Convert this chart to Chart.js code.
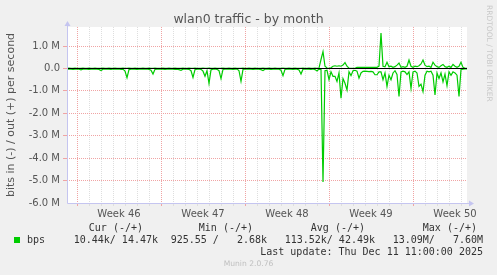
<!DOCTYPE html>
<html>
<head>
<meta charset="utf-8">
<script src="https://cdn.jsdelivr.net/npm/chart.js@4.4.1/dist/chart.umd.min.js"></script>
<style>
    html, body { margin: 0; padding: 0; background: #f0f0f0; }
    #wrap { position: relative; width: 497px; height: 275px; overflow: hidden; font-family: "DejaVu Sans", sans-serif; }
    #wrap canvas { position: absolute; left: 0; top: 0; }
    .txt { position: absolute; white-space: pre; line-height: 1; }
    .mono { font-family: "DejaVu Sans Mono", monospace; font-size: 10px; color: #333; }
    #title { left: 0; width: 497px; top: 13px; text-align: center; font-size: 12.5px; color: #555; }
    #rrd { left: 485px; top: 5px; writing-mode: vertical-rl; font-size: 7.5px; color: #c8c8c8; }
    #munin { left: 0; width: 497px; top: 260px; text-align: center; font-size: 7.6px; color: #c0c0c0; }
    #swatch { position: absolute; left: 14px; top: 237px; width: 6px; height: 6px; background: #00cc00; }
</style>
</head>
<body>
<div id="wrap">
    <canvas id="trafficChart" width="497" height="275"></canvas>
    <div class="txt" id="title">wlan0 traffic - by month</div>
    <div class="txt" id="rrd">RRDTOOL / TOBI OETIKER</div>

    <div class="txt mono" style="top:223px; right:354px">Cur (-/+)</div>
    <div class="txt mono" style="top:223px; right:244px">Min (-/+)</div>
    <div class="txt mono" style="top:223px; right:132px">Avg (-/+)</div>
    <div class="txt mono" style="top:223px; right:20px">Max (-/+)</div>

    <div id="swatch"></div>
    <div class="txt mono" style="top:234.5px; left:27px">bps</div>
    <div class="txt mono" style="top:234.5px; right:339px">10.44k/ 14.47k</div>
    <div class="txt mono" style="top:234.5px; right:230px">925.55 /   2.68k</div>
    <div class="txt mono" style="top:234.5px; right:122px">113.52k/ 42.49k</div>
    <div class="txt mono" style="top:234.5px; right:14px">13.09M/   7.60M</div>

    <div class="txt mono" style="top:246.5px; right:14px">Last update: Thu Dec 11 11:00:00 2025</div>
    <div class="txt" id="munin">Munin 2.0.76</div>
</div>

<script>
// 横軸: 1サンプル = 4時間, グラフ全体 = 800時間
const sampleHours = 4;
const spanHours = 800;
const firstMondayHour = 20;   // 最初の週境界（月曜 0:00）
const weekLabels = ['Week 46', 'Week 47', 'Week 48', 'Week 49', 'Week 50'];
const yTickValues = [-6, -5.5, -5, -4.5, -4, -3.5, -3, -2.5, -2, -1.5, -1, -0.5, 0, 0.5, 1, 1.5];

// 受信 (-) [Mbit/s]
const inMbps = [
    -0.03, -0.02, -0.03, -0.04, -0.03, -0.02, -0.03, -0.06, -0.03, -0.02,
    -0.03, -0.04, -0.03, -0.02, -0.03, -0.03, -0.04, -0.09, -0.03, -0.02,
    -0.03, -0.03, -0.04, -0.02, -0.03, -0.03, -0.02, -0.04, -0.03, -0.12,
    -0.41, -0.05, -0.03, -0.02, -0.03, -0.04, -0.03, -0.02, -0.03, -0.03,
    -0.02, -0.04, -0.08, -0.25, -0.04, -0.03, -0.02, -0.03, -0.03, -0.04,
    -0.03, -0.02, -0.03, -0.03, -0.04, -0.03, -0.05, -0.08, -0.03, -0.02,
    -0.03, -0.04, -0.10, -0.40, -0.05, -0.03, -0.02, -0.04, -0.12, -0.35,
    -0.10, -0.67, -0.06, -0.03, -0.02, -0.04, -0.10, -0.45, -0.04, -0.03,
    -0.03, -0.02, -0.03, -0.04, -0.03, -0.02, -0.10, -0.57, -0.04, -0.03,
    -0.02, -0.03, -0.03, -0.04, -0.03, -0.02, -0.03, -0.05, -0.09, -0.03,
    -0.02, -0.03, -0.04, -0.03, -0.02, -0.03, -0.03, -0.08, -0.32, -0.04,
    -0.03, -0.02, -0.03, -0.04, -0.03, -0.03, -0.07, -0.25, -0.03, -0.02,
    -0.03, -0.03, -0.04, -0.02, -0.05, -0.11, -0.03, -0.04, -5.06, -0.10,
    -0.08, -0.50, -0.15, -0.35, -0.35, -0.58, -0.20, -1.33, -0.45, -0.66,
    -0.96, -0.15, -0.32, -0.10, -0.08, -0.12, -0.43, -0.20, -0.13, -0.12,
    -0.13, -0.14, -0.13, -0.15, -0.28, -0.28, -0.15, -0.15, -0.50, -0.20,
    -0.80, -0.30, -0.50, -0.20, -0.10, -0.27, -1.25, -0.15, -0.12, -0.15,
    -0.27, -0.15, -0.88, -0.15, -0.12, -0.20, -0.80, -0.70, -1.03, -0.30,
    -0.12, -0.15, -0.12, -0.30, -1.18, -0.20, -0.45, -0.20, -0.60, -0.25,
    -0.77, -0.15, -0.30, -0.15, -0.20, -0.30, -1.25, -0.05, -0.03, -0.02,
    -0.02
];

// 送信 (+) [Mbit/s]
const outMbps = [
    0.01, 0.02, 0.01, 0.01, 0.02, 0.01, 0.01, 0.01, 0.02, 0.01,
    0.01, 0.02, 0.01, 0.01, 0.02, 0.01, 0.01, 0.01, 0.02, 0.01,
    0.01, 0.02, 0.01, 0.01, 0.02, 0.01, 0.01, 0.01, 0.02, 0.01,
    0.01, 0.02, 0.01, 0.01, 0.02, 0.01, 0.01, 0.01, 0.02, 0.01,
    0.01, 0.02, 0.01, 0.01, 0.02, 0.01, 0.01, 0.01, 0.02, 0.01,
    0.01, 0.02, 0.01, 0.01, 0.02, 0.01, 0.01, 0.01, 0.02, 0.01,
    0.01, 0.02, 0.01, 0.01, 0.02, 0.01, 0.01, 0.01, 0.02, 0.01,
    0.01, 0.02, 0.01, 0.01, 0.02, 0.01, 0.01, 0.01, 0.02, 0.01,
    0.01, 0.02, 0.01, 0.01, 0.02, 0.01, 0.01, 0.01, 0.02, 0.01,
    0.01, 0.02, 0.01, 0.01, 0.02, 0.01, 0.01, 0.01, 0.02, 0.01,
    0.01, 0.02, 0.01, 0.01, 0.02, 0.01, 0.01, 0.01, 0.02, 0.01,
    0.01, 0.02, 0.01, 0.01, 0.02, 0.01, 0.01, 0.01, 0.02, 0.01,
    0.01, 0.02, 0.01, 0.01, 0.02, 0.01, 0.02, 0.40, 0.75, 0.10,
    0.02, 0.01, 0.03, 0.10, 0.12, 0.10, 0.12, 0.10, 0.15, 0.26,
    0.10, 0.01, 0.01, 0.01, 0.01, 0.05, 0.05, 0.05, 0.05, 0.05,
    0.05, 0.05, 0.05, 0.05, 0.05, 0.05, 0.10, 1.58, 0.10, 0.08,
    0.28, 0.08, 0.10, 0.05, 0.08, 0.15, 0.24, 0.05, 0.08, 0.05,
    0.10, 0.38, 0.10, 0.05, 0.10, 0.08, 0.12, 0.20, 0.38, 0.15,
    0.08, 0.10, 0.05, 0.28, 0.15, 0.08, 0.05, 0.12, 0.18, 0.08,
    0.05, 0.10, 0.05, 0.18, 0.10, 0.05, 0.10, 0.28, 0.05, 0.01,
    0.01
];

const GREEN = '#00cc00';
const MAJOR = '#f0a4a4';
const MINOR = '#dedede';
const AXIS = '#c5c5f0';

function toPoints(values) {
    return values.map((v, i) => ({ x: i * sampleHours, y: v }));
}

// 背景・ゼロ線・軸矢印
const muninFrame = {
    id: 'muninFrame',
    beforeDraw(chart) {
        const { ctx, chartArea: a } = chart;
        ctx.save();
        ctx.fillStyle = '#ffffff';
        ctx.fillRect(a.left, a.top, a.right - a.left, a.bottom - a.top);
        ctx.restore();
    },
    afterDatasetsDraw(chart) {
        const { ctx, chartArea: a } = chart;
        const y0 = Math.round(chart.scales.y.getPixelForValue(0)) + 0.5;
        ctx.save();
        ctx.strokeStyle = '#000000';
        ctx.lineWidth = 1.2;
        ctx.beginPath();
        ctx.moveTo(a.left, y0);
        ctx.lineTo(a.right, y0);
        ctx.stroke();
        ctx.restore();
    },
    afterDraw(chart) {
        const { ctx, chartArea: a } = chart;
        const x = Math.round(a.left) + 0.5;
        const y = Math.round(a.bottom) + 0.5;
        ctx.save();
        ctx.strokeStyle = AXIS;
        ctx.fillStyle = AXIS;
        ctx.lineWidth = 1;
        ctx.beginPath();
        ctx.moveTo(x, y);
        ctx.lineTo(x, a.top - 3);
        ctx.moveTo(x, y);
        ctx.lineTo(a.right + 4, y);
        ctx.stroke();
        // 上向き矢印
        ctx.beginPath();
        ctx.moveTo(x - 3, a.top - 1);
        ctx.lineTo(x + 3, a.top - 1);
        ctx.lineTo(x, a.top - 6);
        ctx.closePath();
        ctx.fill();
        // 右向き矢印
        ctx.beginPath();
        ctx.moveTo(a.right + 2, y - 3);
        ctx.lineTo(a.right + 2, y + 3);
        ctx.lineTo(a.right + 7, y);
        ctx.closePath();
        ctx.fill();
        ctx.restore();
    }
};

function xGridColor(ctx) {
    if (!ctx.tick) return 'transparent';
    const h = ctx.tick.value - firstMondayHour;
    if (h % 24 !== 0) return 'transparent';
    return h % 168 === 0 ? MAJOR : MINOR;
}

function yGridColor(ctx) {
    if (!ctx.tick) return 'transparent';
    const v = ctx.tick.value;
    if (v === -6) return 'transparent';
    return Number.isInteger(v) ? MAJOR : MINOR;
}

const chartCtx = document.getElementById('trafficChart').getContext('2d');
const trafficChart = new Chart(chartCtx, {
    type: 'line',
    data: {
        datasets: [
            {
                label: 'in',
                data: toPoints(inMbps),
                borderColor: GREEN,
                borderWidth: 1.2,
                pointRadius: 0,
                fill: false,
                tension: 0
            },
            {
                label: 'out',
                data: toPoints(outMbps),
                borderColor: GREEN,
                borderWidth: 1.2,
                pointRadius: 0,
                fill: false,
                tension: 0
            }
        ]
    },
    options: {
        responsive: false,
        animation: false,
        events: [],
        layout: {
            padding: { left: 0, right: 30, top: 27, bottom: 52 }
        },
        plugins: {
            legend: { display: false },
            tooltip: { enabled: false }
        },
        scales: {
            x: {
                type: 'linear',
                min: 0,
                max: spanHours,
                afterBuildTicks: scale => {
                    const ticks = [];
                    for (let h = firstMondayHour - 12; h <= spanHours; h += 12) {
                        ticks.push({ value: h });
                    }
                    scale.ticks = ticks;
                },
                afterFit: scale => { scale.height = 20; },
                grid: {
                    color: xGridColor,
                    tickColor: xGridColor,
                    tickLength: 3,
                    lineWidth: 1
                },
                border: { display: false, dash: [1, 1] },
                ticks: {
                    autoSkip: false,
                    maxRotation: 0,
                    padding: 2,
                    color: '#555',
                    font: { family: 'DejaVu Sans', size: 10 },
                    callback: value => {
                        const h = value - firstMondayHour - 84;
                        if (h % 168 !== 0) return '';
                        return weekLabels[h / 168] || '';
                    }
                }
            },
            y: {
                min: -6,
                max: 1.85,
                afterBuildTicks: scale => {
                    scale.ticks = yTickValues.map(v => ({ value: v }));
                },
                afterFit: scale => { scale.width = 67; },
                grid: {
                    color: yGridColor,
                    tickColor: yGridColor,
                    tickLength: 4,
                    lineWidth: 1
                },
                border: { display: false, dash: [1, 1] },
                ticks: {
                    padding: 3,
                    color: '#555',
                    font: { family: 'DejaVu Sans', size: 10 },
                    callback: value => {
                        if (!Number.isInteger(value)) return '';
                        return value === 0 ? '0.0' : value.toFixed(1) + ' M';
                    }
                },
                title: {
                    display: true,
                    text: 'bits in (-) / out (+) per second',
                    color: '#555',
                    font: { family: 'DejaVu Sans', size: 11 },
                    padding: { top: 5, bottom: 0 }
                }
            }
        }
    },
    plugins: [muninFrame]
});
</script>
</body>
</html>
